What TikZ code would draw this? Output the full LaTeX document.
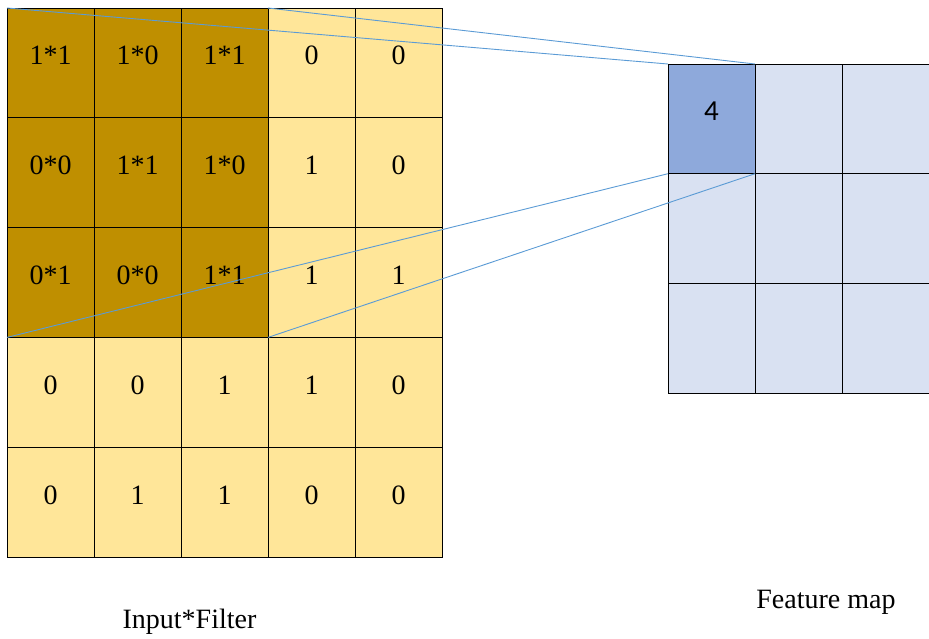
\documentclass[tikz,border=0pt]{standalone}
\usepackage{fontspec}
\setmainfont{Liberation Serif}
\newfontfamily\calibfont{Carlito}
\definecolor{darkgold}{HTML}{BF8F00}
\definecolor{lightgold}{HTML}{FFE699}
\definecolor{outdark}{HTML}{8EA9DB}
\definecolor{outlight}{HTML}{D9E1F2}
\definecolor{linkblue}{HTML}{5B9BD5}
\begin{document}
\begin{tikzpicture}[x=1pt,y=-1pt,
  cellbox/.style={draw=black,line width=0.8pt,minimum width=87pt,minimum height=109.8pt,
    inner sep=0pt,outer sep=0pt,text height=20pt,text depth=16pt,
    font=\fontsize{28}{33}\selectfont},
  incell0/.style={cellbox,fill=lightgold},
  incell1/.style={cellbox,fill=darkgold},
  outcell/.style={cellbox,fill=outlight,minimum height=109.7pt},
  outhi/.style={outcell,fill=outdark,font=\calibfont\fontsize{29}{34}\selectfont},
  link/.style={draw=linkblue,line width=0.9pt},
  caption/.style={anchor=base,inner sep=0pt,font=\fontsize{28}{33}\selectfont}]
\useasboundingbox (0,0) rectangle (929,638);
\foreach \r/\vals in {1/{1*1,1*0,1*1,0,0},2/{0*0,1*1,1*0,1,0},3/{0*1,0*0,1*1,1,1},4/{0,0,1,1,0},5/{0,1,1,0,0}}{
  \foreach \v [count=\c] in \vals {
    \pgfmathtruncatemacro\dk{and(\r<4,\c<4)}
    \node[incell\dk] (in-\r-\c) at ({7+87*(\c-0.5)},{8+109.8*(\r-0.5)}) {\v};
  }
}
\foreach \r in {1,2,3}{
  \foreach \c in {1,2,3}{
    \node[outcell] (out-\r-\c) at ({668+87*(\c-0.5)},{64+109.7*(\r-0.5)}) {};
  }
}
\node[outhi] (out-1-1) at ({668+43.5},{64+54.85}) {4};
\draw[link] (in-1-1.north west) -- (out-1-1.north west);
\draw[link] (in-1-3.north east) -- (out-1-1.north east);
\draw[link] (in-3-1.south west) -- (out-1-1.south west);
\draw[link] (in-3-3.south east) -- (out-1-1.south east);
\node[caption] (inlabel) at (189.5,628) {Input*Filter};
\node[caption] (outlabel) at (826,608) {Feature map};
\end{tikzpicture}
\end{document}
